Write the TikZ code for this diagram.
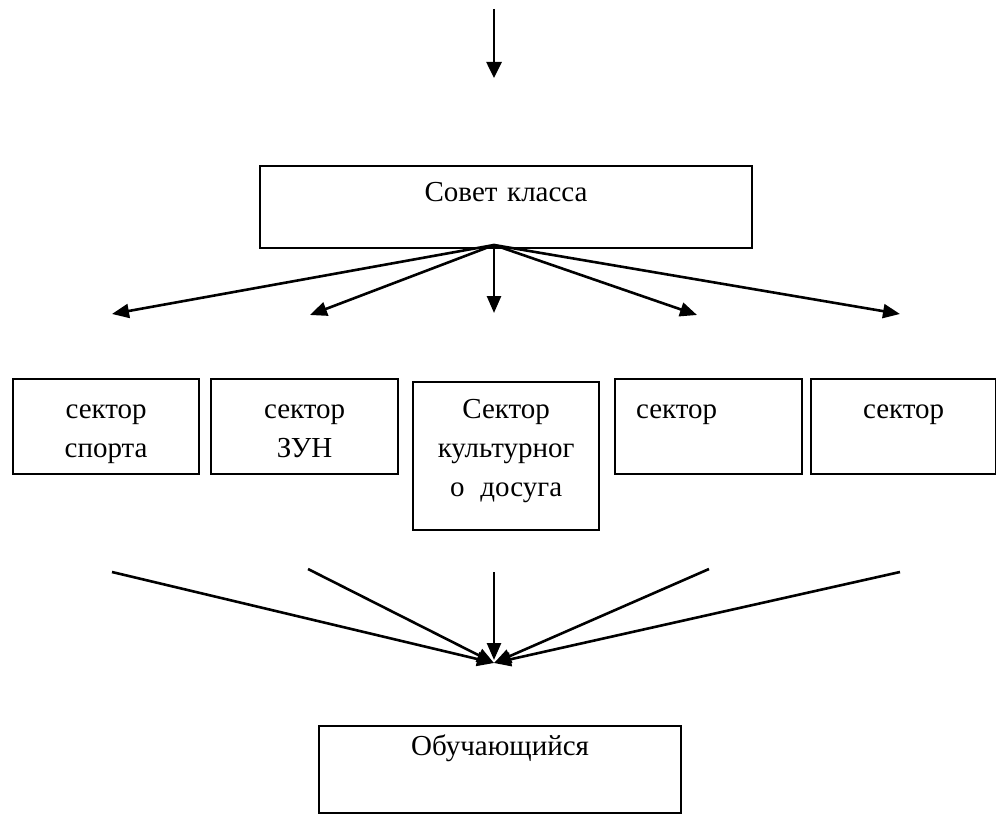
\documentclass[tikz,border=0pt]{standalone}
\usepackage{fontspec}
\setmainfont{Liberation Serif}
\usetikzlibrary{arrows.meta}
\begin{document}
\begin{tikzpicture}[x=1pt,y=-1pt,
  box/.style={draw, line width=2.2pt, inner xsep=0pt, inner ysep=0pt, anchor=north west, align=center, font=\fontsize{29}{39}\selectfont},
  arr/.style={line width=2.6pt, -{Triangle[length=17pt,width=14pt]}},
]
\useasboundingbox (0,0) rectangle (996,816);

% top arrow
\coordinate (topstart) at (494,9);
\coordinate (topend) at (494,78);
\draw[line width=2.6pt, -{Triangle[length=16pt,width=15pt]}] (topstart) -- (topend);

% council box
\node[box, text width=492pt, text height=35pt, text depth=47pt] (council) at (259,165) {Совет класса};

% fan out
\coordinate (hub) at (494,245);
\coordinate (t1) at (112,314);
\coordinate (t2) at (310,315);
\coordinate (t3) at (494,313);
\coordinate (t4) at (697,315);
\coordinate (t5) at (900,314);
\foreach \t in {t1,t2,t3,t4,t5} \draw[arr] (hub) -- (\t);

% sector boxes
\node[box, text width=186pt, text height=39pt, text depth=56pt] (s1) at (12,378) {сектор\\спорта};
\node[box, text width=187pt, text height=39pt, text depth=56pt] (s2) at (210,378) {сектор\\ЗУН};
\node[box, text width=186pt, text height=36pt, text depth=112pt] (s3) at (412,381) {Сектор\\культурног\\о\hspace{0.55em}досуга};
\node[box, align=left, inner xsep=21pt, text width=145pt, text height=39pt, text depth=56pt] (s4) at (614,378) {сектор};
\node[box, text width=185pt, text height=39pt, text depth=56pt] (s5) at (810,378) {сектор};

% converge
\coordinate (b1) at (112,572);
\coordinate (b2) at (308,569);
\coordinate (b3) at (494,572);
\coordinate (b4) at (709,569);
\coordinate (b5) at (900,572);
\coordinate (sink) at (494,663);
\coordinate (sinkc) at (494,660);
\foreach \b in {b1,b2,b4,b5} \draw[arr] (\b) -- (sink);
\draw[arr] (b3) -- (sinkc);

% learner box
\node[box, text width=362pt, text height=29pt, text depth=58pt] (learner) at (318,725) {Обучающийся};
\end{tikzpicture}
\end{document}
